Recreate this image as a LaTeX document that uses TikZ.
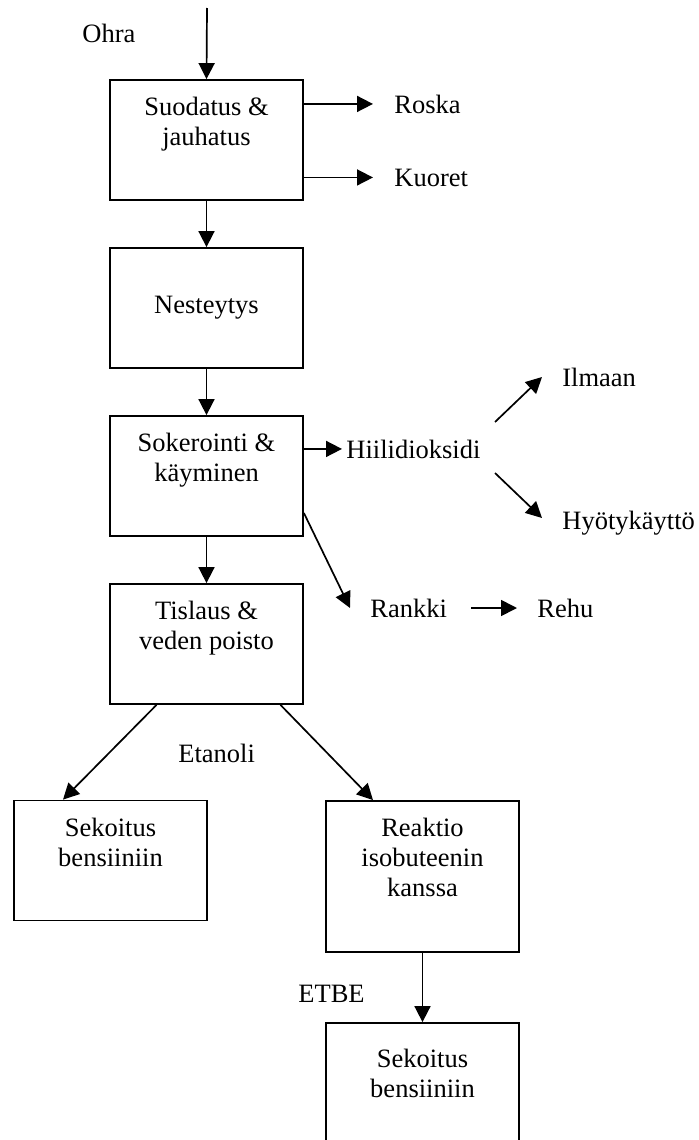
\documentclass[tikz,border=0pt]{standalone}
\usepackage{fontspec}
\setmainfont{Liberation Serif}
\usetikzlibrary{arrows.meta}

\begin{document}
\begin{tikzpicture}[x=0.5pt,y=-0.5pt,every node/.style={font=\fontsize{13.25pt}{15pt}\selectfont}]
	\tikzstyle{box} = [draw=black, line width=0.9pt, minimum width=96.5pt, minimum height=60pt, inner sep=0pt]
	\tikzstyle{boxtext} = [anchor=north, align=center, inner sep=0pt]
	\tikzstyle{lbl} = [anchor=base west, inner sep=0pt]
	\tikzstyle{arr} = [draw=black, line width=0.85pt, -{Triangle[length=8pt,width=8pt]}]
	\useasboundingbox (0,0) rectangle (698,1140);
	\clip (0,0) rectangle (698,1140);
		\coordinate (top) at (207,8);
		\node[lbl] (ohra) at (82,42) {Ohra};
		\node[box] (suod) at (206.5,140) {};
		\node[boxtext] (suodt) at ([yshift=-9pt]suod.north) {Suodatus \&\\jauhatus};
		\node[lbl] (roska) at (394,113) {Roska};
		\node[lbl] (kuor) at (394,186) {Kuoret};
		\node[box] (nest) at (206.5,308) {Nesteytys};
		\node[box] (soke) at (206.5,476) {};
		\node[boxtext] (soket) at ([yshift=-9pt]soke.north) {Sokerointi \&\\käyminen};
		\node[lbl] (hiil) at (346,458) {Hiilidioksidi};
		\node[lbl] (ilma) at (562,386) {Ilmaan};
		\node[lbl] (hyot) at (562,529) {Hyötykäyttö};
		\node[lbl] (rank) at (370,617) {Rankki};
		\node[lbl] (rehu) at (537,617) {Rehu};
		\node[box] (tisl) at (206.5,644) {};
		\node[boxtext] (tislt) at ([yshift=-9pt]tisl.north) {Tislaus \&\\veden poisto};
		\node[lbl] (etan) at (178,762) {Etanoli};
		\node[box] (sek1) at (110.5,860.5) {};
		\node[boxtext] (sek1t) at ([yshift=-9pt]sek1.north) {Sekoitus\\bensiiniin};
		\node[box, minimum height=75.5pt] (reak) at (422.5,876.5) {};
		\node[boxtext] (reakt) at ([yshift=-9pt]reak.north) {Reaktio\\isobuteenin\\kanssa};
		\node[lbl] (etbe) at (298,1002) {ETBE};
		\node[box, minimum height=65pt] (sek2) at (422.5,1088) {};
		\node[boxtext] (sek2t) at ([yshift=-13.5pt]sek2.north) {Sekoitus\\bensiiniin};
	\draw[arr] (top) -- (suod.north);
	\draw[arr] (suod.east |- roska.west) -- ([xshift=-10.5pt]roska.west);
	\draw[arr] (suod.east |- kuor.west) -- ([xshift=-10.5pt]kuor.west);
	\draw[arr] (suod.south) -- (nest.north);
	\draw[arr] (nest.south) -- (soke.north);
	\draw[arr] (soke.south) -- (tisl.north);
	\draw[arr] (soke.east |- hiil.west) -- ([xshift=-2pt]hiil.west);
	\draw[arr] ([shift={(149,-36)}]hiil.base west) -- ([shift={(-20,-9)}]ilma.base west);
	\draw[arr] ([shift={(149,15)}]hiil.base west) -- ([shift={(-20,-11)}]hyot.base west);
	\draw[arr] ([yshift=-18.5pt]soke.east) -- ([shift={(-20,-9)}]rank.base west);
	\draw[arr] ([shift={(24,-9)}]rank.base east) -- ([shift={(-20,-9)}]rehu.base west);
	\draw[arr] ([xshift=-25pt]tisl.south) -- ([xshift=-23.75pt]sek1.north);
	\draw[arr] ([xshift=37pt]tisl.south) -- ([xshift=-24.75pt]reak.north);
	\draw[arr] (reak.south) -- (sek2.north);
	\end{tikzpicture}
\end{document}
